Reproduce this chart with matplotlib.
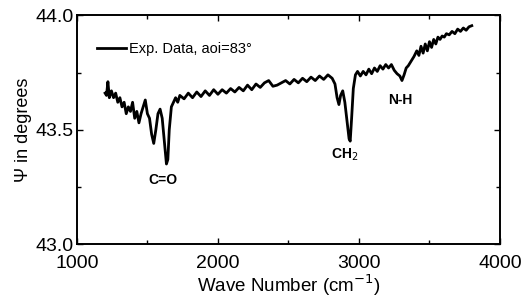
import matplotlib
matplotlib.use("Agg")
import matplotlib.pyplot as plt
from matplotlib.ticker import MultipleLocator

plt.rcParams['font.family'] = ['Liberation Sans', 'DejaVu Sans']

# ---- data ----
wave = [
    1200, 1210, 1220, 1230, 1245, 1260, 1275, 1290, 1305, 1320, 1335, 1350,
    1365, 1380, 1395, 1410, 1425, 1440, 1455, 1470, 1485, 1500, 1515, 1530,
    1545, 1560, 1575, 1590, 1605, 1620, 1635, 1645, 1655, 1670, 1685, 1700,
    1715, 1730, 1760, 1790, 1820, 1850, 1880, 1910, 1940, 1970, 2000, 2030,
    2060, 2090, 2120, 2150, 2180, 2210, 2240, 2270, 2300, 2330, 2360, 2390,
    2420, 2450, 2480, 2510, 2540, 2570, 2600, 2630, 2660, 2690, 2720, 2750,
    2780, 2810, 2830, 2845, 2858, 2870, 2885, 2900, 2915, 2930, 2938, 2948,
    2960, 2975, 2990, 3010, 3030, 3050, 3070, 3090, 3110, 3130, 3150, 3170,
    3190, 3210, 3230, 3250, 3270, 3290, 3305, 3320, 3335, 3350, 3370, 3390,
    3410, 3425, 3440, 3455, 3470, 3485, 3500, 3515, 3530, 3545, 3560, 3575,
    3590, 3605, 3620, 3640, 3660, 3680, 3700, 3720, 3740, 3760, 3780, 3800,
]
psi = [
    43.66, 43.65, 43.71, 43.64, 43.67, 43.64, 43.66, 43.62, 43.64, 43.60, 43.62, 43.57,
    43.60, 43.58, 43.62, 43.55, 43.58, 43.53, 43.57, 43.60, 43.63, 43.57, 43.55, 43.48,
    43.44, 43.50, 43.57, 43.59, 43.55, 43.45, 43.35, 43.37, 43.50, 43.60, 43.62, 43.64,
    43.62, 43.65, 43.635, 43.66, 43.64, 43.665, 43.645, 43.67, 43.65, 43.675, 43.655, 43.675,
    43.66, 43.68, 43.665, 43.685, 43.67, 43.695, 43.675, 43.70, 43.685, 43.705, 43.715, 43.69,
    43.695, 43.705, 43.715, 43.70, 43.72, 43.705, 43.725, 43.71, 43.73, 43.715, 43.735, 43.72,
    43.74, 43.725, 43.70, 43.64, 43.61, 43.65, 43.67, 43.62, 43.54, 43.46, 43.45, 43.55,
    43.68, 43.74, 43.755, 43.735, 43.755, 43.74, 43.765, 43.745, 43.77, 43.755, 43.78, 43.765,
    43.785, 43.77, 43.785, 43.76, 43.745, 43.735, 43.715, 43.74, 43.77, 43.78, 43.80, 43.82,
    43.845, 43.825, 43.865, 43.835, 43.875, 43.845, 43.885, 43.86, 43.895, 43.875, 43.905, 43.895,
    43.91, 43.905, 43.92, 43.915, 43.93, 43.92, 43.94, 43.93, 43.945, 43.935, 43.95, 43.955,
]

peak_labels = ["C=O", "CH$_2$", "N-H"]
peak_x = [1610, 2900, 3290]
peak_y = [43.28, 43.39, 43.63]

# ---- figure ----
fig = plt.figure(figsize=(5.23, 3.02), dpi=100)
ax = fig.add_axes([0.147, 0.192, 0.809, 0.757])

ax.plot(wave, psi, color="black", lw=2.0, label="Exp. Data, aoi=83°")

for lab, px, py in zip(peak_labels, peak_x, peak_y):
    ax.text(px, py, lab, fontsize=10, fontweight="bold", ha="center", va="center")

ax.set_xlim(1000, 4000)
ax.set_ylim(43.0, 44.0)
ax.xaxis.set_major_locator(MultipleLocator(1000))
ax.xaxis.set_minor_locator(MultipleLocator(500))
ax.yaxis.set_major_locator(MultipleLocator(0.5))
ax.yaxis.set_minor_locator(MultipleLocator(0.25))
ax.yaxis.set_major_formatter(plt.FormatStrFormatter("%.1f"))

ax.tick_params(which="both", direction="in", top=True, right=True, width=1)
ax.tick_params(which="major", length=4, labelsize=14)
ax.tick_params(axis="x", which="major", pad=8)
ax.tick_params(axis="y", which="major", pad=2)
ax.tick_params(which="minor", length=3)
for s in ax.spines.values():
    s.set_linewidth(1.4)

ax.set_xlabel("Wave Number (cm$^{-1}$)", fontsize=13.5, labelpad=0)
ax.set_ylabel("Ψ in degrees", fontsize=13, labelpad=3)

ax.legend(loc="upper left", frameon=False, fontsize=10.5, handlelength=2.0,
          handletextpad=0.25, borderaxespad=0.0, bbox_to_anchor=(0.033, 0.91))

fig.savefig("out.png", dpi=100)
